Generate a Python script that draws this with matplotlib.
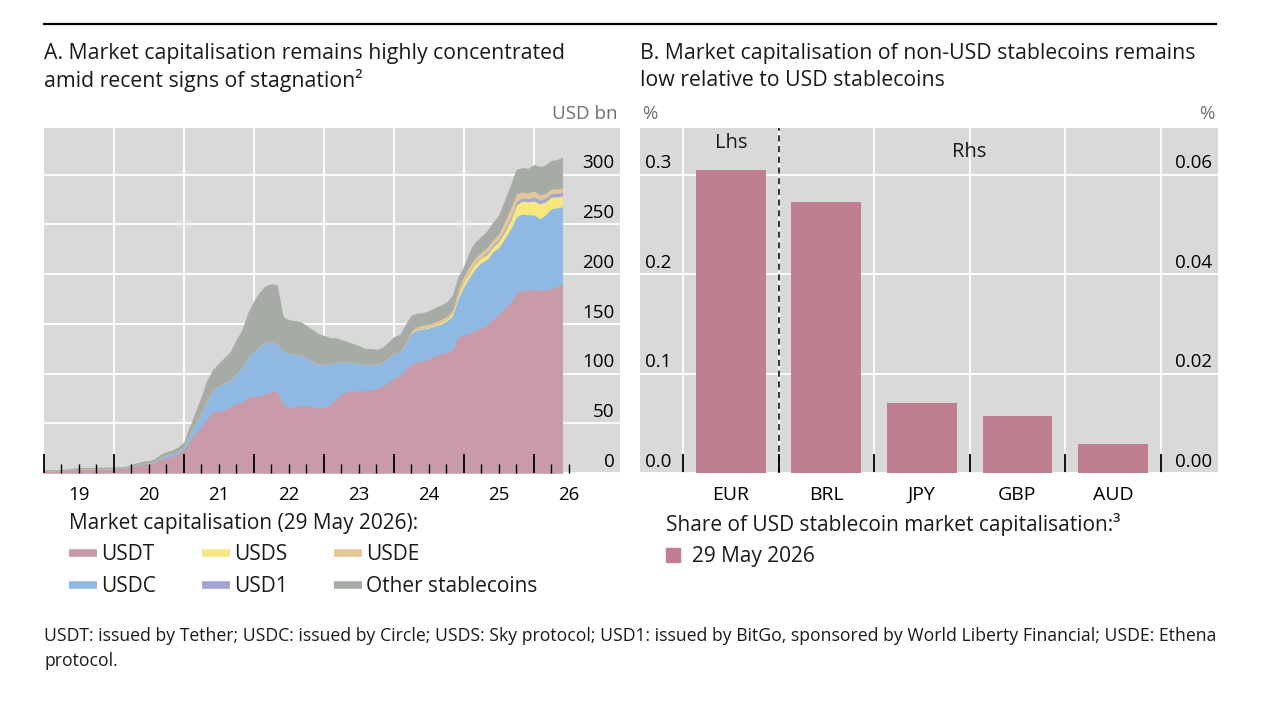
import matplotlib
matplotlib.use('Agg')
import matplotlib.pyplot as plt
import matplotlib.transforms as mtransforms
from matplotlib.lines import Line2D
from matplotlib.patches import Patch
from matplotlib.ticker import FormatStrFormatter
import numpy as np
import pandas as pd

plt.rcParams['font.family'] = ['Open Sans', 'DejaVu Sans']
plt.rcParams['font.size'] = 13.5
plt.rcParams['text.color'] = '#1a1a1a'

# ---- panel A data: month starts Jan 2019 .. May 2026, plus 29 May 2026 (USD bn)
dates = list(pd.date_range('2019-01-01', '2026-05-01', freq='MS')) + [pd.Timestamp('2026-05-29')]

usdt = ([2.0, 2.0, 2.0, 2.3, 2.6, 3.3, 3.9, 4.0, 4.0, 4.1, 4.1, 4.1] +
        [4.1, 4.6, 4.7, 6.4, 8.0, 9.0, 9.5, 10.5, 14.5, 15.8, 17.0, 19.5] +
        [24, 33, 40, 46, 55, 62, 62, 64, 67, 70, 72, 76] +
        [78, 78, 80, 82, 83, 70, 66, 67, 68, 68, 67, 66] +
        [66, 69, 74, 80, 82, 83, 83, 83, 84, 85, 88, 91] +
        [96, 98, 104, 110, 112, 113, 115, 118, 120, 121, 124, 137] +
        [139, 141, 144, 146, 149, 155, 160, 166, 172, 181, 184, 184] +
        [185, 184, 184, 186, 188, 190])
usdc = ([0.3, 0.3, 0.25, 0.25, 0.3, 0.45, 0.5, 0.45, 0.45, 0.45, 0.45, 0.5] +
        [0.5, 0.5, 0.6, 0.7, 0.8, 1.0, 1.1, 1.4, 1.9, 2.6, 2.8, 3.1] +
        [3, 8, 11, 14, 19, 23, 26, 27, 27, 31, 35, 41] +
        [45, 50, 52, 50, 47, 53, 55, 53, 51, 48, 46, 44] +
        [43, 41, 38, 32, 30, 29, 28, 26, 26, 25, 24, 25] +
        [25, 24, 26, 31, 32, 32, 31, 30, 30, 32, 34, 39] +
        [49, 57, 62, 66, 66, 68, 67, 70, 74, 77, 77, 76] +
        [75, 72, 76, 80, 79, 78])
usds = ([0] * 60 +
        [0, 0, 0, 0.5, 1, 1, 1, 1.5, 2, 2, 3, 4] +
        [5, 5, 5, 5, 5, 5, 6, 7, 9, 12, 13, 13] +
        [14, 15, 13, 12, 11, 11])
usd1 = ([0] * 72 +
        [0, 0, 0, 0.5, 2, 2, 2, 2.5, 2.5, 3, 3, 3] +
        [4, 4, 3.5, 3.5, 3.5, 3.5])
usde = ([0] * 60 +
        [0, 0, 1, 2, 2.5, 3, 3, 2.5, 2.5, 2.5, 3, 4.5] +
        [6, 6.5, 6, 5, 5, 5, 6, 8, 9, 8, 6, 6] +
        [6, 5, 5, 4.5, 4.5, 4.5])
other = ([0.7, 0.7, 0.7, 0.7, 0.8, 0.8, 0.9, 0.9, 0.9, 0.9, 1.0, 1.0] +
         [1.0, 1.0, 1.0, 1.2, 1.4, 1.5, 1.6, 2.0, 2.4, 2.8, 3.0, 3.3] +
         [4, 6, 10, 16, 19, 19, 22, 25, 28, 33, 37, 44] +
         [50, 54, 56, 58, 59, 34, 33, 33, 33, 32, 31, 30] +
         [29, 26, 24, 22, 20, 18, 17, 16, 15, 14, 14, 15] +
         [16, 17, 18, 15, 13, 12, 13, 14, 14, 14, 14, 12] +
         [9, 14, 15, 15, 16, 17, 18, 20, 23, 24, 24, 24] +
         [26, 28, 28, 28, 29, 30])

series_names = ['USDT', 'USDC', 'USDS', 'USD1', 'USDE', 'Other stablecoins']
series_cols = ['#c99aa8', '#8fb9e3', '#f6e77e', '#a2a5d5', '#e4c89a', '#a6aba5']

year_ticks = list(range(2019, 2027))
year_labels = ['19', '20', '21', '22', '23', '24', '25', '26']
a_yticks = [0, 50, 100, 150, 200, 250, 300]

# ---- panel B data (% of USD stablecoin market cap)
currencies = ['EUR', 'BRL', 'JPY', 'GBP', 'AUD']
lhs_share = [0.305]                       # EUR, left axis
rhs_share = [0.0546, 0.0140, 0.0115, 0.0058]  # BRL..AUD, right axis
b_lticks = [0.0, 0.1, 0.2, 0.3]
b_rticks = [0.0, 0.02, 0.04, 0.06]

bg = '#d9d9d9'
bar_col = '#bf7f90'
unit_col = '#707070'
TITLE_FS = 15.3
LEG_FS = 15

t = np.array([d.year + (d.dayofyear - 1) / (366 if d.is_leap_year else 365) for d in dates])

fig = plt.figure(figsize=(12.8, 7.2), dpi=100)
W, H = 1280, 720
up = mtransforms.ScaledTranslation(0, 4.5 / 72, fig.dpi_scale_trans)

# top rule
fig.add_artist(Line2D([44 / W, 1216 / W], [1 - 24 / H, 1 - 24 / H], color='black', lw=1.6))

# ================= panel A
axA = fig.add_axes([44 / W, 1 - 473 / H, 576 / W, 345 / H])
axA.set_facecolor(bg)
polys = axA.stackplot(t, usdt, usdc, usds, usd1, usde, other, colors=series_cols)
for p, c in zip(polys, series_cols):
    p.set_edgecolor(c)
    p.set_linewidth(0.4)
axA.set_xlim(2019, 2027.23)
axA.set_ylim(0, 347)
axA.set_axisbelow(True)
for s in axA.spines.values():
    s.set_visible(False)

axA.set_xticks([y + 0.5 for y in year_ticks])
axA.set_xticklabels(year_labels)
axA.set_xticks(year_ticks[1:], minor=True)
axA.tick_params(axis='x', which='both', length=0, pad=9, labelsize=13.5)
axA.grid(which='minor', axis='x', color='white', lw=1.3)
axA.set_yticks(a_yticks)
axA.grid(which='major', axis='y', color='white', lw=1.3)
axA.yaxis.tick_right()
axA.tick_params(axis='y', length=0, pad=-4, labelsize=13.5)
for lb in axA.get_yticklabels():
    lb.set_ha('right')
    lb.set_va('baseline')
    lb.set_transform(lb.get_transform() + up)

# tick marks drawn above the areas
axT = axA.twiny()
axT.set_xlim(axA.get_xlim())
axT.xaxis.set_ticks_position('bottom')
axT.set_xticks(year_ticks)
axT.set_xticks([y + q / 4 for y in year_ticks[:-1] for q in (1, 2, 3)] + [2026.25, 2026.5], minor=True)
axT.tick_params(axis='x', which='major', direction='in', length=14, width=1.3, color='black',
                labelbottom=False, labeltop=False)
axT.tick_params(axis='x', which='minor', direction='in', length=6.5, width=1.0, color='black',
                labelbottom=False, labeltop=False)
for s in axT.spines.values():
    s.set_visible(False)

fig.text(618 / W, 1 - 114 / H, 'USD bn', ha='right', va='center', color=unit_col, fontsize=13.5)
fig.text(44 / W, 1 - 53 / H, 'A. Market capitalisation remains highly concentrated', va='center', fontsize=TITLE_FS)
fig.text(44 / W, 1 - 80 / H, 'amid recent signs of stagnation²', va='center', fontsize=TITLE_FS)

handlesA = [Line2D([], [], color=c, lw=5.5, solid_capstyle='butt') for c in series_cols]
fig.legend(handlesA, series_names, ncol=3, loc='upper left', bbox_to_anchor=(69 / W, 1 - 513 / H),
           frameon=False, title='Market capitalisation (29 May 2026):', alignment='left',
           handlelength=1.35, handletextpad=0.2, columnspacing=2.2, labelspacing=0.5,
           borderpad=0, borderaxespad=0, fontsize=LEG_FS, title_fontsize=LEG_FS)

# ================= panel B
axB = fig.add_axes([640 / W, 1 - 473 / H, 578 / W, 345 / H])
axB.set_facecolor(bg)
pos = np.arange(len(currencies))
axB.bar(pos[:1], lhs_share, width=0.73, color=bar_col, zorder=2)
axB.set_xlim(-0.95, 5.1)
axB.set_ylim(0, 0.347)
axB.set_axisbelow(True)
for s in axB.spines.values():
    s.set_visible(False)
axB.set_xticks(pos)
axB.set_xticklabels(currencies)
axB.set_xticks(np.append(pos - 0.5, pos[-1] + 0.5), minor=True)
axB.tick_params(axis='x', which='major', length=0, pad=9, labelsize=14)
axB.tick_params(axis='x', which='minor', direction='in', length=14, width=1.3, color='black')
axB.grid(which='minor', axis='x', color='white', lw=1.3)
axB.set_yticks(b_lticks)
axB.yaxis.set_major_formatter(FormatStrFormatter('%.1f'))
axB.grid(which='major', axis='y', color='white', lw=1.3)
axB.tick_params(axis='y', length=0, pad=-3.6, labelsize=13.5)
for lb in axB.get_yticklabels():
    lb.set_ha('left')
    lb.set_va('baseline')
    lb.set_transform(lb.get_transform() + up)
axB.axvline((pos[0] + pos[1]) / 2, color='black', lw=1.1, ls=(0, (4, 3)), zorder=3)

axB2 = axB.twinx()
axB2.bar(pos[1:], rhs_share, width=0.73, color=bar_col)
axB2.set_ylim(0, 0.0694)
for s in axB2.spines.values():
    s.set_visible(False)
axB2.set_yticks(b_rticks)
axB2.yaxis.set_major_formatter(FormatStrFormatter('%.2f'))
axB2.tick_params(axis='y', length=0, pad=-4.3, labelsize=13.5)
for lb in axB2.get_yticklabels():
    lb.set_ha('right')
    lb.set_va('baseline')
    lb.set_transform(lb.get_transform() + up)

axB.text(pos[0], 0.3317, 'Lhs', ha='center', va='center', fontsize=14.5)
axB.text((pos[1] + pos[-1]) / 2, 0.3226, 'Rhs', ha='center', va='center', fontsize=14.5)

fig.text(642 / W, 1 - 114 / H, '%', ha='left', va='center', color=unit_col, fontsize=13.5)
fig.text(1215 / W, 1 - 114 / H, '%', ha='right', va='center', color=unit_col, fontsize=13.5)
fig.text(640 / W, 1 - 53 / H, 'B. Market capitalisation of non-USD stablecoins remains', va='center', fontsize=TITLE_FS)
fig.text(640 / W, 1 - 80 / H, 'low relative to USD stablecoins', va='center', fontsize=TITLE_FS)

fig.legend([Patch(color=bar_col)], ['29 May 2026'], loc='upper left', bbox_to_anchor=(666 / W, 1 - 513 / H),
           frameon=False, title='Share of USD stablecoin market capitalisation:³', alignment='left',
           handlelength=0.65, handleheight=0.65, handletextpad=0.6, labelspacing=0.5,
           borderpad=0, borderaxespad=0, fontsize=LEG_FS, title_fontsize=LEG_FS)

# footnote
fig.text(44 / W, 1 - 636 / H, 'USDT: issued by Tether; USDC: issued by Circle; USDS: Sky protocol; USD1: issued by BitGo, '
         'sponsored by World Liberty Financial; USDE: Ethena', va='center', fontsize=12.7)
fig.text(44 / W, 1 - 661 / H, 'protocol.', va='center', fontsize=12.7)

fig.savefig('out.png', dpi=100)
